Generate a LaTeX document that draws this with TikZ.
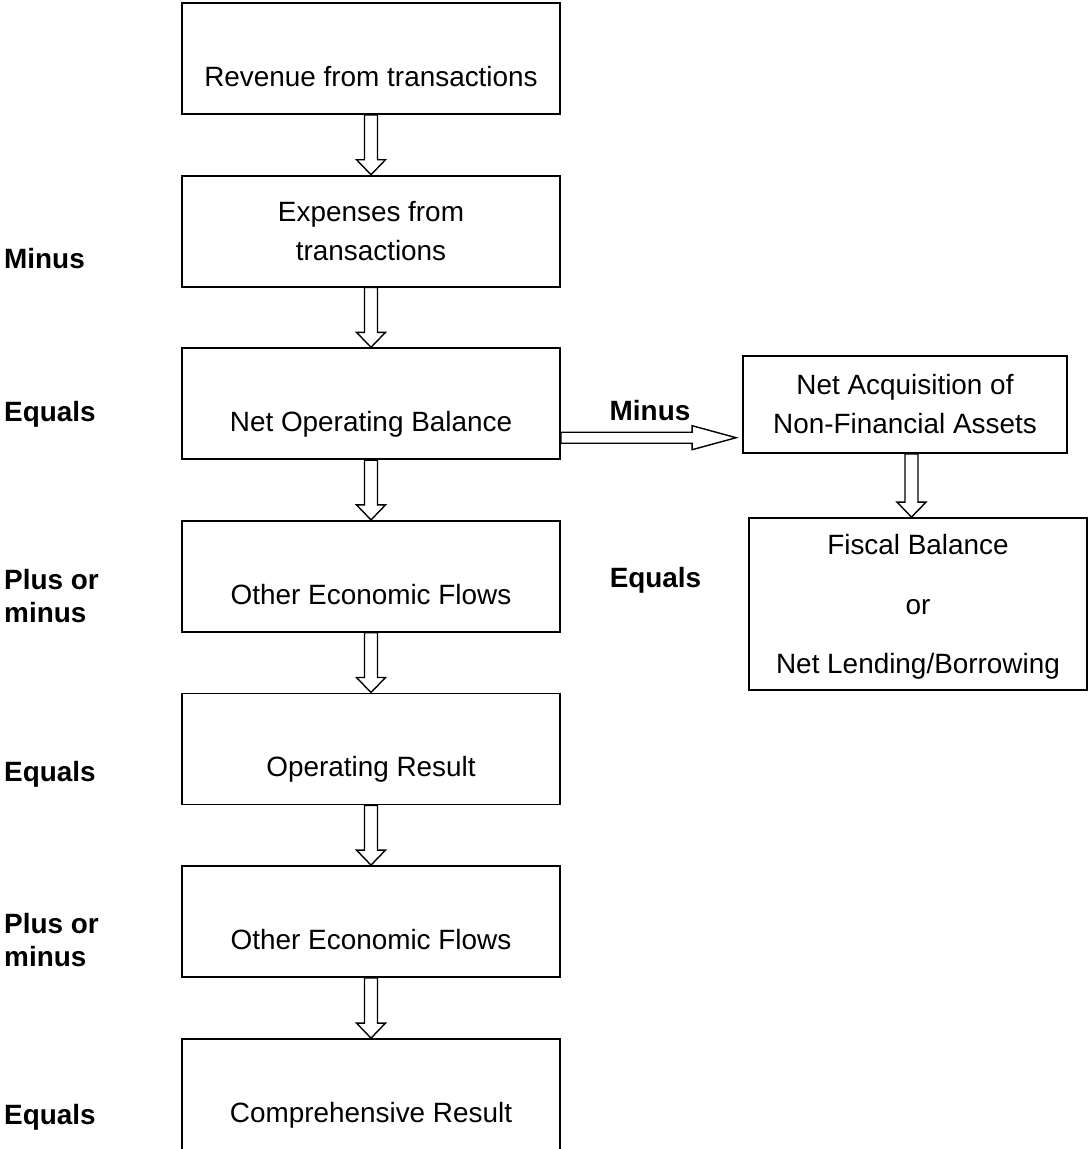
\documentclass[tikz,border=0pt]{standalone}
\usepackage{fontspec}
\setmainfont{Liberation Sans}
\usetikzlibrary{calc}

% hollow block arrow pointing down, from the bottom of #1 to the top of #2
\newcommand{\downblock}[2]{%
  \draw[blockarrow] let \p1=(#1.south), \p2=(#2.north), \p3=($(#1.south)!.5!(#2.north)$) in
    (\x3-6.5pt,\y1) -- (\x3-6.5pt,\y2+15pt) -- (\x3-14.5pt,\y2+15pt) -- (\x3,\y2)
    -- (\x3+14.5pt,\y2+15pt) -- (\x3+6.5pt,\y2+15pt) -- (\x3+6.5pt,\y1) -- cycle;}

\begin{document}
\begin{tikzpicture}[x=1pt, y=1pt,
  font=\fontsize{27.9}{39}\selectfont,
  stepbox/.style={draw, line width=1.8pt, minimum width=378pt, minimum height=111pt, align=center, inner sep=0pt},
  lowtext/.style={text height=62pt, text depth=6pt},
  sidebox/.style={draw, line width=1.8pt, align=center, inner sep=0pt},
  sidelabel/.style={font=\fontsize{27.9}{33}\selectfont\bfseries, anchor=base west, align=left, inner sep=0pt},
  midlabel/.style={font=\fontsize{27.9}{33}\selectfont\bfseries, anchor=base, inner sep=0pt},
  blockarrow/.style={draw, line width=1.4pt, fill=white, line join=miter}]
  \useasboundingbox (0,0) rectangle (1088,-1149);
  \clip (0,0) rectangle (1088,-1149);

  %% main column
  \node[stepbox, lowtext] (rev)  at (371,-58.5)  {Revenue from transactions};
  \node[stepbox]          (exp)  at (371,-231.1) {Expenses from\\transactions};
  \node[stepbox, lowtext] (nob)  at (371,-403.7) {Net Operating Balance};
  \node[stepbox, lowtext] (oef1) at (371,-576.3) {Other Economic Flows};
  \node[stepbox, lowtext] (opr)  at (371,-748.9) {Operating Result};
  \node[stepbox, lowtext] (oef2) at (371,-921.5) {Other Economic Flows};
  \node[stepbox, lowtext] (cres) at (371,-1094.5) {Comprehensive Result};

  %% side branch
  \node[sidebox, minimum width=324pt, minimum height=97pt] (nafa) at (905,-404.5)
    {Net Acquisition of\\Non-Financial Assets};
  \node[sidebox, minimum width=338pt, minimum height=172pt, text depth=0pt] (fisc) at (918,-604)
    {Fiscal Balance\\[20.5pt]or\\[20.5pt]Net Lending/Borrowing};

  %% operators
  \node[sidelabel] (minus1) at (4,-268)  {Minus};
  \node[sidelabel] (eq1)    at (4,-421)  {Equals};
  \node[sidelabel] (pm1)    at (4,-622)  {Plus or\\minus};
  \node[sidelabel] (eq2)    at (4,-781)  {Equals};
  \node[sidelabel] (pm2)    at (4,-966)  {Plus or\\minus};
  \node[sidelabel] (eq3)    at (4,-1124) {Equals};
  \node[midlabel]  (minus2) at (650,-420) {Minus};
  \node[midlabel]  (eq4)    at (655.5,-587) {Equals};

  %% arrows
  \foreach \a/\b in {rev/exp, exp/nob, nob/oef1, oef1/opr, opr/oef2, oef2/cres, nafa/fisc}
    \downblock{\a}{\b};
  \draw[blockarrow] let \p1=([yshift=-34pt]nob.east), \p2=([xshift=-6pt]nafa.west) in
    (\x1,\y1+5.5pt) -- (\x2-44pt,\y1+5.5pt) -- (\x2-44pt,\y1+12pt) -- (\x2,\y1)
    -- (\x2-44pt,\y1-12pt) -- (\x2-44pt,\y1-5.5pt) -- (\x1,\y1-5.5pt) -- cycle;
\end{tikzpicture}
\end{document}
